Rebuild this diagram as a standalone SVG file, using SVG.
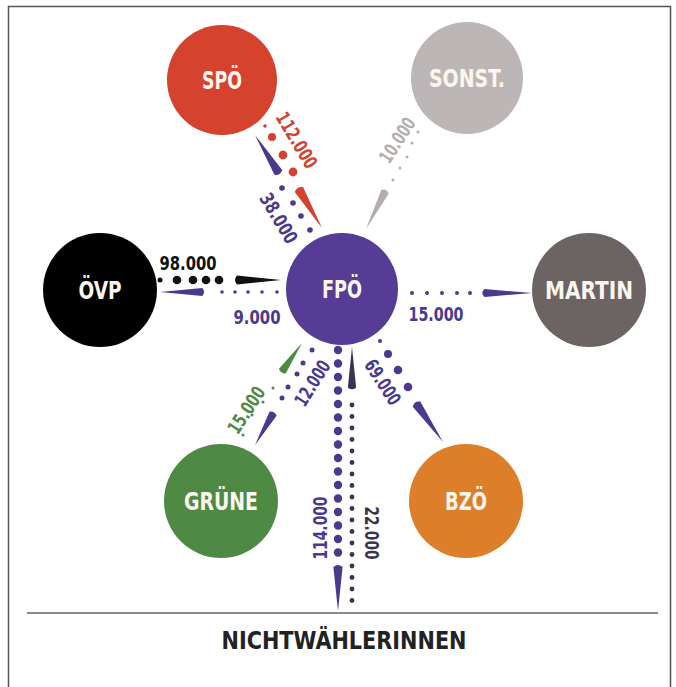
<svg xmlns="http://www.w3.org/2000/svg" xmlns:xlink="http://www.w3.org/1999/xlink" width="676" height="687" viewBox="0 0 676 687">
<style>
text{font-family:'Liberation Sans Narrow','DejaVu Sans Condensed','Roboto Condensed','Liberation Sans',sans-serif;font-weight:bold;text-anchor:middle;dominant-baseline:central}
.nl{fill:#fbf6ee;font-size:24px}
.lab{font-size:19px}
.red{fill:#d5412f}.pur{fill:#4a3a8e}.blk{fill:#111}.gry{fill:#b3adad}.grn{fill:#4e8a44}.dk{fill:#3a3450}
</style>
<defs>
<path id="arr" d="M0,0 L-44,-4.6 Q-48,0 -44,4.6 Z"/>
</defs>
<rect x="0" y="0" width="676" height="687" fill="#fff"/>
<path d="M8.5,687 V6.5 H670.5 V687" fill="none" stroke="#555" stroke-width="1.5"/>
<line x1="27" y1="613" x2="658" y2="613" stroke="#8a8a8a" stroke-width="2.2"/>

<g id="connectors">
  <!-- SPÖ -> FPÖ 112.000 -->
  <g class="red">
    <circle cx="265" cy="126" r="1.8"/><circle cx="272" cy="137" r="4"/><circle cx="283" cy="155" r="4.4"/><circle cx="293" cy="172" r="4.4"/>
    <use xlink:href="#arr" transform="translate(322,228) rotate(59) scale(1.02,1.05)"/>
    <text class="lab" transform="translate(297,140) rotate(59)" textLength="62" lengthAdjust="spacingAndGlyphs">112.000</text>
  </g>
  <!-- FPÖ -> SPÖ 38.000 -->
  <g class="pur">
    <circle cx="282" cy="188" r="2.8"/><circle cx="293" cy="203" r="2.8"/><circle cx="301" cy="216" r="2.8"/><circle cx="310" cy="230" r="2.8"/>
    <use xlink:href="#arr" transform="translate(255,135) rotate(238)"/>
    <text class="lab" transform="translate(279,218) rotate(59)" textLength="55" lengthAdjust="spacingAndGlyphs">38.000</text>
  </g>
  <!-- SONST -> FPÖ 10.000 -->
  <g class="gry">
    <circle cx="418" cy="132" r="1.5"/><circle cx="412" cy="143" r="1.5"/><circle cx="407" cy="157" r="1.5"/><circle cx="400" cy="168" r="1.5"/><circle cx="393" cy="180" r="1.5"/>
    <use xlink:href="#arr" transform="translate(366,229) rotate(117) scale(0.95,0.9)"/>
    <text class="lab" transform="translate(397,140) rotate(-57)" textLength="50" lengthAdjust="spacingAndGlyphs">10.000</text>
  </g>
  <!-- ÖVP -> FPÖ 98.000 -->
  <g class="blk">
    <circle cx="160" cy="280" r="2.5"/><circle cx="177" cy="280" r="4.3"/><circle cx="193" cy="280" r="4.3"/><circle cx="206" cy="280" r="4.3"/><circle cx="219" cy="280" r="4.3"/>
    <use xlink:href="#arr" transform="translate(281,280)"/>
    <text class="lab" x="188" y="263" textLength="57" lengthAdjust="spacingAndGlyphs">98.000</text>
  </g>
  <!-- FPÖ -> ÖVP 9.000 -->
  <g class="pur">
    <circle cx="222" cy="292" r="1.8"/><circle cx="235" cy="292" r="1.8"/><circle cx="248" cy="292" r="1.8"/><circle cx="262" cy="292" r="1.8"/><circle cx="277" cy="292" r="1.8"/>
    <use xlink:href="#arr" transform="translate(160,292) rotate(180) scale(0.96,0.85)"/>
    <text class="lab" x="257" y="317" textLength="47" lengthAdjust="spacingAndGlyphs">9.000</text>
  </g>
  <!-- FPÖ -> MARTIN 15.000 -->
  <g class="pur">
    <circle cx="412" cy="293" r="2"/><circle cx="427" cy="293" r="2"/><circle cx="442" cy="293" r="2"/><circle cx="457" cy="293" r="2"/><circle cx="470" cy="293" r="2"/>
    <use xlink:href="#arr" transform="translate(532,293) scale(1.08,0.85)"/>
    <text class="lab" x="436" y="314" textLength="55" lengthAdjust="spacingAndGlyphs">15.000</text>
  </g>
  <!-- GRÜNE -> FPÖ 15.000 -->
  <g class="grn">
    <circle cx="273" cy="388" r="1.5"/><circle cx="263" cy="402" r="1.5"/><circle cx="252" cy="415" r="1.5"/><circle cx="243" cy="435" r="1.5"/>
    <use xlink:href="#arr" transform="translate(302,343) rotate(-55) scale(0.78,0.9)"/>
    <text class="lab" transform="translate(246,410) rotate(-57)" textLength="52" lengthAdjust="spacingAndGlyphs">15.000</text>
  </g>
  <!-- FPÖ -> GRÜNE 12.000 -->
  <g class="pur">
    <circle cx="312" cy="350" r="2.5"/><circle cx="303" cy="363" r="2.5"/><circle cx="297" cy="374" r="2.5"/><circle cx="288" cy="387" r="2.5"/><circle cx="282" cy="398" r="2.5"/>
    <use xlink:href="#arr" transform="translate(255,445) rotate(120) scale(0.82,0.9)"/>
    <text class="lab" transform="translate(312,383) rotate(-58)" textLength="50" lengthAdjust="spacingAndGlyphs">12.000</text>
  </g>
  <!-- FPÖ -> BZÖ 69.000 -->
  <g class="pur">
    <circle cx="380" cy="341" r="2"/><circle cx="388" cy="354" r="4"/><circle cx="398" cy="370" r="4.3"/><circle cx="408" cy="387" r="4.3"/>
    <use xlink:href="#arr" transform="translate(443,442) rotate(55) scale(1.05,1)"/>
    <text class="lab" transform="translate(383,382) rotate(57)" textLength="50" lengthAdjust="spacingAndGlyphs">69.000</text>
  </g>
  <!-- FPÖ -> NICHTWÄHLER 114.000 -->
  <g class="pur">
    <circle cx="338" cy="350" r="4.2"/><circle cx="338" cy="363.5" r="4.2"/><circle cx="338" cy="377" r="4.2"/><circle cx="338" cy="390.5" r="4.2"/>
    <circle cx="338" cy="404" r="4.2"/><circle cx="338" cy="417.5" r="4.2"/><circle cx="338" cy="431" r="4.2"/><circle cx="338" cy="444.5" r="4.2"/>
    <circle cx="338" cy="458" r="4.2"/><circle cx="338" cy="471.5" r="4.2"/><circle cx="338" cy="485" r="4.2"/><circle cx="338" cy="498.5" r="4.2"/>
    <circle cx="338" cy="512" r="4.2"/><circle cx="338" cy="525.5" r="4.2"/><circle cx="338" cy="539" r="4.2"/><circle cx="338" cy="552.5" r="4.2"/>
    <use xlink:href="#arr" transform="translate(338,611) rotate(90)"/>
    <text class="lab" transform="translate(320,528) rotate(-90)" textLength="63" lengthAdjust="spacingAndGlyphs">114.000</text>
  </g>
  <!-- NICHTWÄHLER -> FPÖ 22.000 -->
  <g class="dk">
    <circle cx="352" cy="405" r="2.4"/><circle cx="352" cy="416.5" r="2.4"/><circle cx="352" cy="428" r="2.4"/><circle cx="352" cy="439.5" r="2.4"/>
    <circle cx="352" cy="451" r="2.4"/><circle cx="352" cy="462.5" r="2.4"/><circle cx="352" cy="474" r="2.4"/><circle cx="352" cy="485.5" r="2.4"/>
    <circle cx="352" cy="497" r="2.4"/><circle cx="352" cy="508.5" r="2.4"/><circle cx="352" cy="520" r="2.4"/><circle cx="352" cy="531.5" r="2.4"/>
    <circle cx="352" cy="543" r="2.4"/><circle cx="352" cy="554.5" r="2.4"/><circle cx="352" cy="566" r="2.4"/><circle cx="352" cy="577.5" r="2.4"/>
    <circle cx="352" cy="589" r="2.4"/><circle cx="352" cy="600.5" r="2.4"/>
    <use xlink:href="#arr" transform="translate(352,347) rotate(-90) scale(0.92,0.9)"/>
    <text class="lab" transform="translate(372,533) rotate(90)" textLength="53" lengthAdjust="spacingAndGlyphs">22.000</text>
  </g>
</g>

<g id="node-spoe"><circle cx="222" cy="80" r="55" fill="#d5432f"/><text class="nl" x="222" y="81" textLength="40" lengthAdjust="spacingAndGlyphs">SPÖ</text></g>
<g id="node-sonst"><circle cx="467" cy="78" r="56" fill="#bdb6b6"/><text class="nl" x="467" y="79" textLength="76" lengthAdjust="spacingAndGlyphs">SONST.</text></g>
<g id="node-oevp"><circle cx="100" cy="290" r="57" fill="#000"/><text class="nl" x="100" y="291" textLength="43" lengthAdjust="spacingAndGlyphs">ÖVP</text></g>
<g id="node-fpoe"><circle cx="342" cy="289" r="56" fill="#563c94"/><text class="nl" x="342" y="290" textLength="40" lengthAdjust="spacingAndGlyphs">FPÖ</text></g>
<g id="node-martin"><circle cx="589" cy="290" r="57" fill="#6c6463"/><text class="nl" x="589" y="291" textLength="88" lengthAdjust="spacingAndGlyphs">MARTIN</text></g>
<g id="node-gruene"><circle cx="221" cy="501" r="57" fill="#4e8a43"/><text class="nl" x="221" y="502" textLength="74" lengthAdjust="spacingAndGlyphs">GRÜNE</text></g>
<g id="node-bzoe"><circle cx="466" cy="501" r="57" fill="#dd7e2a"/><text class="nl" x="466" y="502" textLength="42" lengthAdjust="spacingAndGlyphs">BZÖ</text></g>
<g id="node-nichtwaehler"><text x="344" y="640" style="font-size:25px;fill:#222" textLength="245" lengthAdjust="spacingAndGlyphs">NICHTWÄHLERINNEN</text></g>
</svg>
